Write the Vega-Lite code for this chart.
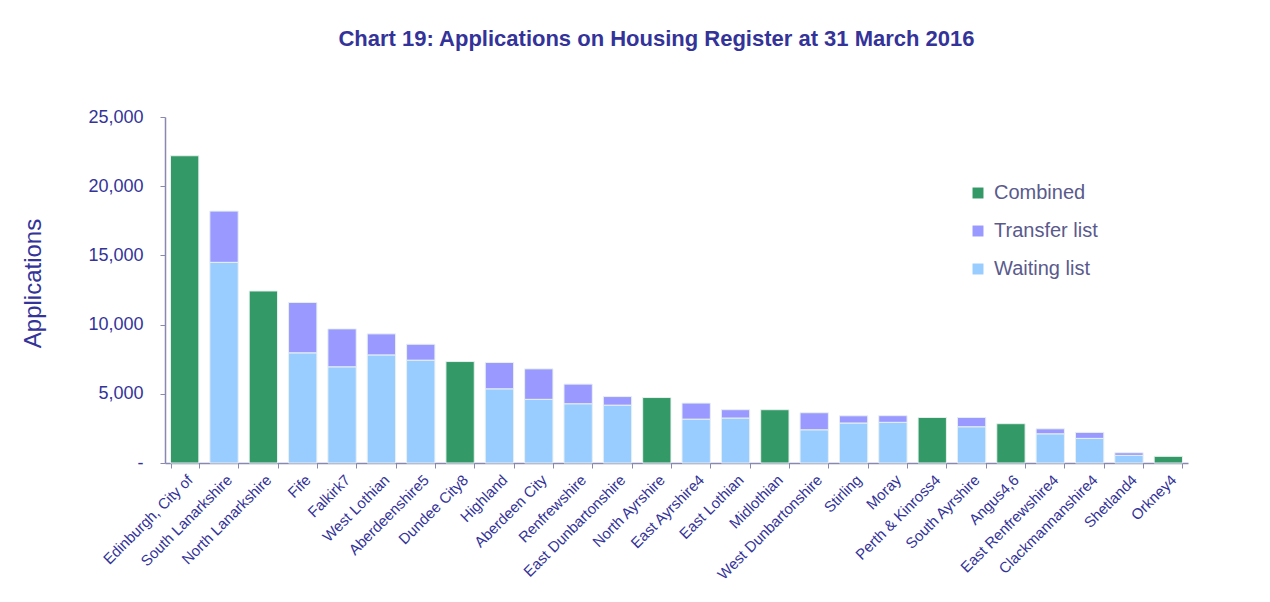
{
  "$schema": "https://vega.github.io/schema/vega-lite/v6.json",
  "width": 1023,
  "height": 346,
  "autosize": {"type": "none"},
  "padding": {"left": 165, "top": 117, "right": 82, "bottom": 139},
  "background": "white",
  "title": {
    "text": "Chart 19: Applications on Housing Register at 31 March 2016",
    "font": "Liberation Sans",
    "fontSize": 22,
    "fontWeight": "bold",
    "color": "#333399",
    "anchor": "middle",
    "dx": -20,
    "offset": 57,
    "limit": 1000
  },
  "data": {
    "values": [
      {"area": "Edinburgh, City of", "type": "Combined", "value": 22200, "ord": 0},
      {"area": "South Lanarkshire", "type": "Waiting list", "value": 14500, "ord": 0},
      {"area": "South Lanarkshire", "type": "Transfer list", "value": 3700, "ord": 1},
      {"area": "North Lanarkshire", "type": "Combined", "value": 12430, "ord": 0},
      {"area": "Fife", "type": "Waiting list", "value": 7960, "ord": 0},
      {"area": "Fife", "type": "Transfer list", "value": 3640, "ord": 1},
      {"area": "Falkirk7", "type": "Waiting list", "value": 6950, "ord": 0},
      {"area": "Falkirk7", "type": "Transfer list", "value": 2740, "ord": 1},
      {"area": "West Lothian", "type": "Waiting list", "value": 7810, "ord": 0},
      {"area": "West Lothian", "type": "Transfer list", "value": 1520, "ord": 1},
      {"area": "Aberdeenshire5", "type": "Waiting list", "value": 7430, "ord": 0},
      {"area": "Aberdeenshire5", "type": "Transfer list", "value": 1150, "ord": 1},
      {"area": "Dundee City8", "type": "Combined", "value": 7330, "ord": 0},
      {"area": "Highland", "type": "Waiting list", "value": 5360, "ord": 0},
      {"area": "Highland", "type": "Transfer list", "value": 1900, "ord": 1},
      {"area": "Aberdeen City", "type": "Waiting list", "value": 4600, "ord": 0},
      {"area": "Aberdeen City", "type": "Transfer list", "value": 2200, "ord": 1},
      {"area": "Renfrewshire", "type": "Waiting list", "value": 4280, "ord": 0},
      {"area": "Renfrewshire", "type": "Transfer list", "value": 1420, "ord": 1},
      {"area": "East Dunbartonshire", "type": "Waiting list", "value": 4180, "ord": 0},
      {"area": "East Dunbartonshire", "type": "Transfer list", "value": 620, "ord": 1},
      {"area": "North Ayrshire", "type": "Combined", "value": 4730, "ord": 0},
      {"area": "East Ayrshire4", "type": "Waiting list", "value": 3170, "ord": 0},
      {"area": "East Ayrshire4", "type": "Transfer list", "value": 1160, "ord": 1},
      {"area": "East Lothian", "type": "Waiting list", "value": 3250, "ord": 0},
      {"area": "East Lothian", "type": "Transfer list", "value": 600, "ord": 1},
      {"area": "Midlothian", "type": "Combined", "value": 3850, "ord": 0},
      {"area": "West Dunbartonshire", "type": "Waiting list", "value": 2400, "ord": 0},
      {"area": "West Dunbartonshire", "type": "Transfer list", "value": 1230, "ord": 1},
      {"area": "Stirling", "type": "Waiting list", "value": 2890, "ord": 0},
      {"area": "Stirling", "type": "Transfer list", "value": 520, "ord": 1},
      {"area": "Moray", "type": "Waiting list", "value": 2940, "ord": 0},
      {"area": "Moray", "type": "Transfer list", "value": 480, "ord": 1},
      {"area": "Perth & Kinross4", "type": "Combined", "value": 3290, "ord": 0},
      {"area": "South Ayrshire", "type": "Waiting list", "value": 2620, "ord": 0},
      {"area": "South Ayrshire", "type": "Transfer list", "value": 670, "ord": 1},
      {"area": "Angus4,6", "type": "Combined", "value": 2840, "ord": 0},
      {"area": "East Renfrewshire4", "type": "Waiting list", "value": 2110, "ord": 0},
      {"area": "East Renfrewshire4", "type": "Transfer list", "value": 360, "ord": 1},
      {"area": "Clackmannanshire4", "type": "Waiting list", "value": 1780, "ord": 0},
      {"area": "Clackmannanshire4", "type": "Transfer list", "value": 430, "ord": 1},
      {"area": "Shetland4", "type": "Waiting list", "value": 550, "ord": 0},
      {"area": "Shetland4", "type": "Transfer list", "value": 190, "ord": 1},
      {"area": "Orkney4", "type": "Combined", "value": 480, "ord": 0}
    ]
  },
  "mark": {"type": "bar", "stroke": "#e8f0f0", "strokeWidth": 1},
  "encoding": {
    "x": {
      "field": "area",
      "type": "nominal",
      "sort": null,
      "scale": {"paddingInner": 0.28, "paddingOuter": 0.14},
      "axis": {
        "title": null,
        "labelAngle": -45,
        "labelAlign": "right",
        "labelBaseline": "middle",
        "labelFont": "Liberation Sans",
        "labelFontSize": 15,
        "labelColor": "#333399",
        "labelPadding": 9,
        "labelOffset": 5,
        "labelLimit": 300,
        "tickBand": "extent",
        "ticks": true,
        "tickSize": 5,
        "tickColor": "#8888b0",
        "domainColor": "#8888b0",
        "domainWidth": 1.5
      }
    },
    "y": {
      "field": "value",
      "type": "quantitative",
      "stack": "zero",
      "scale": {"domain": [0, 25000], "nice": false},
      "axis": {
        "title": "Applications",
        "titleFont": "Liberation Sans",
        "titleFontSize": 24,
        "titleFontWeight": "normal",
        "titleColor": "#333399",
        "titleX": -132,
        "titleY": 166,
        "titleAngle": -90,
        "titleAlign": "center",
        "titleBaseline": "middle",
        "values": [0, 5000, 10000, 15000, 20000, 25000],
        "labelExpr": "datum.value == 0 ? '-\u00a0\u00a0' : format(datum.value, ',')",
        "labelFont": "Liberation Sans",
        "labelFontSize": 18,
        "labelColor": "#333399",
        "labelPadding": 17,
        "grid": false,
        "tickSize": 5,
        "tickColor": "#8888b0",
        "domainColor": "#8888b0",
        "domainWidth": 1.5
      }
    },
    "color": {
      "field": "type",
      "type": "nominal",
      "scale": {
        "domain": ["Combined", "Transfer list", "Waiting list"],
        "range": ["#339966", "#9999ff", "#99ccff"]
      },
      "legend": {
        "title": null,
        "orient": "none",
        "legendX": 803,
        "legendY": 66,
        "symbolType": "square",
        "symbolSize": 120,
        "symbolStrokeWidth": 0,
        "labelFont": "Liberation Sans",
        "labelFontSize": 20,
        "labelColor": "#5a5a8c",
        "labelOffset": 6,
        "rowPadding": 18
      }
    },
    "order": {"field": "ord", "type": "quantitative"}
  },
  "config": {
    "view": {"stroke": null}
  }
}
